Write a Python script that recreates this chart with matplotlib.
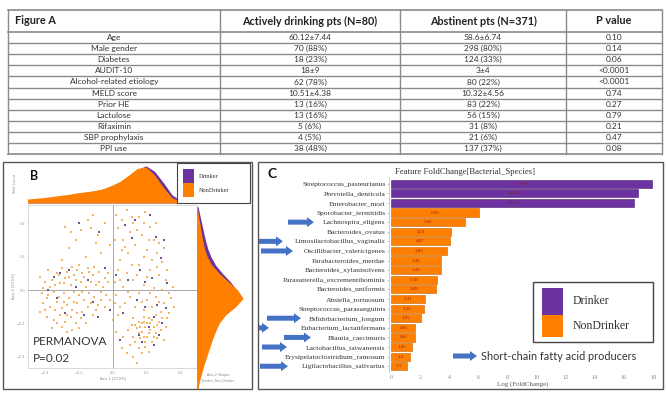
import matplotlib.pyplot as plt
from matplotlib.patches import Rectangle, FancyArrow
import numpy as np

W, H = 666, 393

# --- Figure A table ---
table_header = ['Figure A', 'Actively drinking pts (N=80)', 'Abstinent pts (N=371)', 'P value']
row_labels = ['Age', 'Male gender', 'Diabetes', 'AUDIT-10', 'Alcohol-related etiology', 'MELD score',
              'Prior HE', 'Lactulose', 'Rifaximin', 'SBP prophylaxis', 'PPI use']
drinker_vals = ['60.12±7.44', '70 (88%)', '18 (23%)', '18±9', '62 (78%)', '10.51±4.38',
                '13 (16%)', '13 (16%)', '5 (6%)', '4 (5%)', '38 (48%)']
abstinent_vals = ['58.6±6.74', '298 (80%)', '124 (33%)', '3±4', '80 (22%)', '10.32±4.56',
                  '83 (22%)', '56 (15%)', '31 (8%)', '21 (6%)', '137 (37%)']
p_values = ['0.10', '0.14', '0.06', '<0.0001', '<0.0001', '0.74', '0.27', '0.79', '0.21', '0.47', '0.08']

# --- Panel C: fold change of bacterial species ---
species = ['Streptococcus_pasteurianus', 'Prevotella_denticola', 'Enterobacter_mori',
           'Sporobacter_termitidis', 'Lachnospira_eligens', 'Bacteroides_ovatus',
           'Limosilactobacillus_vaginalis', 'Oscillibacter_valericigenes', 'Parabacteroides_merdae',
           'Bacteroides_xylanisolvens', 'Parasutterella_excrementihominis', 'Bacteroides_uniformis',
           'Absiella_tortuosum', 'Streptococcus_parasanguinis', 'Bifidobacterium_longum',
           'Eubacterium_lactatifermans', 'Blautia_caecimuris', 'Lactobacillus_taiwanensis',
           'Erysipelatoclostridium_ramosum', 'Ligilactobacillus_salivarius']
log_fc = [17.96, 16.94, 16.71, 6.05, 5.06, 4.11, 4.07, 3.83, 3.46, 3.43,
          3.18, 3.09, 2.31, 2.25, 2.05, 1.66, 1.66, 1.45, 1.3, 1.1]
group = ['Drinker'] * 3 + ['NonDrinker'] * 17
scfa = ['Lachnospira_eligens', 'Limosilactobacillus_vaginalis', 'Oscillibacter_valericigenes',
        'Bifidobacterium_longum', 'Eubacterium_lactatifermans', 'Blautia_caecimuris',
        'Lactobacillus_taiwanensis', 'Ligilactobacillus_salivarius']
scfa_arrow_x = [(288, 314), (259, 283), (261, 293), (267, 301), (259, 269), (284, 311), (262, 287), (260, 288)]

# --- Panel B: PCoA scatter ---
nd_pts = [(-0.38, 0.12), (-0.33, 0.10), (-0.30, 0.13), (-0.27, 0.11), (-0.24, 0.14), (-0.21, 0.12),
          (-0.18, 0.10), (-0.15, 0.13), (-0.12, 0.09), (-0.08, 0.11), (-0.05, 0.07), (-0.40, 0.05),
          (-0.36, 0.06), (-0.31, 0.04), (-0.28, 0.07), (-0.25, 0.03), (-0.22, 0.06), (-0.19, 0.05),
          (-0.16, 0.02), (-0.13, 0.05), (-0.10, 0.03), (-0.06, 0.02), (-0.03, 0.05), (-0.42, -0.02),
          (-0.38, -0.03), (-0.35, -0.01), (-0.32, -0.04), (-0.29, -0.02), (-0.26, -0.05), (-0.23, -0.01),
          (-0.20, -0.03), (-0.17, -0.06), (-0.14, -0.02), (-0.11, -0.04), (-0.07, -0.01), (-0.04, -0.03),
          (-0.41, -0.08), (-0.37, -0.10), (-0.33, -0.07), (-0.30, -0.11), (-0.27, -0.09), (-0.24, -0.12),
          (-0.21, -0.08), (-0.18, -0.13), (-0.15, -0.10), (-0.09, -0.09), (-0.39, -0.16), (-0.35, -0.18),
          (-0.31, -0.15), (-0.28, -0.19), (-0.25, -0.16), (-0.22, -0.20), (-0.19, -0.17), (-0.12, -0.15),
          (-0.36, -0.23), (-0.30, -0.22), (-0.24, -0.24), (-0.25, 0.35), (-0.19, 0.36), (-0.13, 0.37),
          (-0.09, 0.33), (-0.26, 0.25), (-0.10, 0.28), (-0.16, 0.20), (-0.05, 0.40), (-0.30, 0.18),
          (0.01, 0.05), (0.03, 0.12), (0.02, -0.03), (0.04, -0.10), (0.00, -0.18), (0.02, -0.25),
          (0.02, 0.45), (0.05, 0.42), (0.08, 0.48), (0.12, 0.40), (0.15, 0.44), (0.19, 0.47),
          (0.22, 0.38), (0.24, 0.30), (0.17, 0.33), (0.10, 0.35), (0.06, 0.30), (0.13, 0.27),
          (0.20, 0.24), (0.26, 0.22), (0.29, 0.17), (0.09, 0.22), (0.04, 0.18), (0.15, 0.15),
          (0.22, 0.12), (0.27, 0.09), (0.31, 0.06), (0.08, 0.10), (0.12, 0.06), (0.18, 0.03),
          (0.24, 0.01), (0.29, 0.00), (0.33, -0.02), (0.06, 0.02), (0.10, -0.04), (0.15, -0.02),
          (0.20, -0.06), (0.25, -0.04), (0.30, -0.08), (0.34, -0.05), (0.07, -0.08), (0.13, -0.10),
          (0.18, -0.12), (0.23, -0.10), (0.28, -0.13), (0.12, -0.17), (0.15, -0.19), (0.18, -0.16),
          (0.20, -0.20), (0.23, -0.18), (0.26, -0.21), (0.29, -0.17), (0.14, -0.23), (0.17, -0.25),
          (0.19, -0.22), (0.22, -0.24), (0.25, -0.26), (0.28, -0.24), (0.16, -0.29), (0.20, -0.28),
          (0.23, -0.31), (0.26, -0.29), (0.12, -0.28), (0.09, -0.24), (0.10, -0.33), (0.15, -0.35),
          (0.19, -0.34), (0.08, -0.38), (0.12, -0.40), (0.30, -0.30),
          (-0.43, 0.08), (-0.41, 0.01), (-0.39, -0.05), (-0.37, 0.02), (-0.34, 0.03), (-0.34, -0.12),
          (-0.32, 0.09), (-0.29, 0.04), (-0.29, -0.07), (-0.27, -0.15), (-0.26, 0.08), (-0.23, 0.09),
          (-0.23, -0.07), (-0.21, -0.14), (-0.20, 0.15), (-0.18, -0.01), (-0.17, 0.08), (-0.16, -0.20),
          (-0.14, 0.11), (-0.13, -0.08), (-0.11, 0.14), (-0.10, -0.12), (-0.08, 0.05), (-0.07, -0.06),
          (-0.05, -0.10), (-0.03, 0.10), (-0.02, -0.06), (-0.33, -0.20), (-0.27, -0.25), (-0.20, -0.23),
          (-0.40, -0.12), (-0.43, -0.13), (0.13, -0.21), (0.16, -0.22), (0.18, -0.19), (0.21, -0.17),
          (0.24, -0.22), (0.27, -0.19), (0.15, -0.26), (0.18, -0.28), (0.21, -0.26), (0.24, -0.28),
          (0.19, -0.31), (0.22, -0.20), (0.17, -0.20), (0.25, -0.15), (0.11, -0.21), (0.13, -0.31),
          (0.17, -0.38), (0.21, -0.37), (0.14, -0.44), (0.05, -0.35), (0.06, -0.28), (0.31, -0.22),
          (0.33, -0.14), (0.01, 0.30), (0.03, 0.37), (0.07, 0.26), (0.11, 0.44), (0.14, 0.36),
          (0.18, 0.40), (0.21, 0.30), (0.25, 0.40), (0.27, 0.28), (0.30, 0.25), (0.32, 0.12),
          (0.23, 0.18), (0.18, 0.20), (0.11, 0.15), (0.05, 0.24), (0.14, 0.09), (0.20, 0.08),
          (0.26, 0.14), (0.35, 0.02), (0.36, -0.10), (0.09, -0.01), (0.17, -0.07), (0.22, -0.02),
          (0.27, -0.07), (0.32, -0.17), (0.04, 0.06), (0.01, -0.08), (0.03, -0.15), (-0.22, 0.30),
          (-0.15, 0.42), (-0.28, 0.38), (-0.07, 0.22), (-0.12, 0.45), (-0.02, 0.27)]
dr_pts = [(-0.35, 0.08), (-0.22, 0.02), (-0.12, -0.07), (-0.28, -0.14), (-0.05, 0.13), (0.02, 0.09),
          (0.19, 0.05), (0.26, -0.09), (0.21, -0.22), (0.24, -0.16), (0.17, -0.31), (0.27, -0.27),
          (0.11, 0.31), (0.22, 0.45), (0.25, 0.32), (0.07, 0.39), (0.16, 0.12), (0.31, -0.11),
          (0.14, -0.06), (-0.17, -0.15), (-0.33, -0.05), (-0.08, 0.35), (-0.20, 0.40), (0.32, 0.04),
          (0.06, -0.14), (0.28, 0.19), (-0.38, 0.00), (-0.26, 0.12), (-0.15, 0.06), (-0.02, -0.12),
          (0.09, 0.06), (0.23, 0.07), (0.19, -0.10), (0.15, -0.27), (0.24, -0.33), (0.29, -0.20),
          (0.13, 0.42), (0.30, 0.30), (0.04, -0.30), (-0.09, -0.16), (-0.31, 0.10)]

top_grid = [-0.5, -0.45, -0.4, -0.35, -0.3, -0.25, -0.2, -0.15, -0.1, -0.05, 0.0,
            0.05, 0.1, 0.15, 0.2, 0.25, 0.3, 0.35, 0.4, 0.45, 0.5]
top_nondrinker = [0.10, 0.12, 0.14, 0.17, 0.20, 0.23, 0.27, 0.30, 0.33, 0.38, 0.47,
                  0.58, 0.75, 0.93, 0.97, 0.75, 0.42, 0.14, 0.04, 0.01, 0.0]
top_drinker = [0.08, 0.10, 0.12, 0.15, 0.18, 0.21, 0.25, 0.29, 0.32, 0.37, 0.45,
               0.56, 0.72, 0.90, 1.00, 0.85, 0.55, 0.22, 0.06, 0.01, 0.0]
side_grid = [0.5, 0.45, 0.4, 0.35, 0.3, 0.25, 0.2, 0.15, 0.1, 0.05, 0.0, -0.05,
             -0.1, -0.15, -0.2, -0.25, -0.3, -0.35, -0.4, -0.45, -0.5, -0.55, -0.6]
side_nondrinker = [0.0, 0.03, 0.06, 0.09, 0.12, 0.16, 0.22, 0.32, 0.48, 0.68, 0.88, 1.0,
                   0.84, 0.62, 0.48, 0.40, 0.33, 0.27, 0.21, 0.15, 0.10, 0.05, 0.02]
side_drinker = [0.02, 0.06, 0.10, 0.14, 0.18, 0.23, 0.30, 0.40, 0.55, 0.72, 0.86, 0.90,
                0.76, 0.58, 0.45, 0.37, 0.30, 0.24, 0.18, 0.13, 0.08, 0.04, 0.01]

PURPLE = '#6B32A0'
ORANGE = '#FF8000'
BLUE = '#4472C4'
SANS = ['Lato', 'DejaVu Sans']
SERIF = ['Liberation Serif', 'DejaVu Serif']


def rect(x0, y0, x1, y1):
    # pixel box (top-left origin) -> figure fraction
    return [x0 / W, 1 - y1 / H, (x1 - x0) / W, (y1 - y0) / H]


fig = plt.figure(figsize=(W / 100, H / 100), dpi=100)

# ---------------- Panel C ----------------
axc = fig.add_axes(rect(389, 177, 657, 372))
ypos = np.arange(len(species))
cols = [PURPLE if g == 'Drinker' else ORANGE for g in group]
edges = ['#4a1f75' if g == 'Drinker' else '#c96400' for g in group]
axc.barh(ypos, log_fc, height=0.85, color=cols, edgecolor=edges, linewidth=0.4)
for i, v in enumerate(log_fc):
    axc.text(v / 2, i, f'{v:g}', ha='center', va='center', fontsize=3.5, color='#8b1a1a',
             family=SERIF)
axc.set_yticks(ypos)
axc.set_yticklabels(species, family=SERIF, fontsize=5.4, color='#333333')
axc.set_ylim(19.6, -0.7)
axc.set_xlim(-0.14, 18.27)
axc.set_xticks(range(0, 19, 2))
axc.tick_params(axis='x', labelsize=4.3, colors='#888888', length=0, pad=2)
axc.tick_params(axis='y', length=1.5, width=0.4, color='#999999', pad=1)
for t in axc.get_xticklabels():
    t.set_family(SERIF)
for s in ['top', 'right', 'bottom']:
    axc.spines[s].set_visible(False)
axc.spines['left'].set_color('#bbbbbb')
axc.spines['left'].set_linewidth(0.5)
axc.set_xlabel('Log (FoldChange)', family=SERIF, fontsize=5, color='#555555', labelpad=1)

# ---------------- Panel B ----------------
xlim_b = (-0.5, 0.494)
ylim_b = (-0.467, 0.51)
axs = fig.add_axes(rect(28, 205, 197, 368))
axs.scatter([p[0] for p in nd_pts], [p[1] for p in nd_pts], s=3.5, marker='s', color='#F3A13A',
            alpha=0.8, linewidths=0)
axs.scatter([p[0] for p in dr_pts], [p[1] for p in dr_pts], s=3.5, marker='s', color='#4B3C86',
            alpha=0.85, linewidths=0)
axs.axhline(0, color='#999999', lw=0.6, zorder=0)
axs.axvline(0, color='#999999', lw=0.6, zorder=0)
axs.set_xlim(*xlim_b)
axs.set_ylim(*ylim_b)
axs.set_xticks([-0.4, -0.2, 0.0, 0.2, 0.4])
axs.set_yticks([-0.4, -0.2, 0.0, 0.2, 0.4])
axs.tick_params(labelsize=2.5, colors='#999999', length=1, width=0.3, pad=1)
for s in axs.spines.values():
    s.set_color('#cccccc')
    s.set_linewidth(0.5)
axs.set_xlabel('Axis.1 [22.8%]', fontsize=2.5, color='#888888', labelpad=1)
axs.set_ylabel('Axis.2 [14.5%]', fontsize=2.5, color='#888888', labelpad=1)
axs.text(-0.47, -0.33, 'PERMANOVA', family=SANS, fontsize=8.5, color='#333333')
axs.text(-0.47, -0.43, 'P=0.02', family=SANS, fontsize=8.5, color='#333333')

axt = fig.add_axes(rect(28, 164, 197, 203))
axt.fill_between(top_grid, top_drinker, color=PURPLE, lw=0)
axt.fill_between(top_grid, top_nondrinker, color=ORANGE, lw=0)
axt.set_xlim(-0.48, xlim_b[1])
axt.set_ylim(0, 1.05)
axt.set_xticks([])
axt.set_yticks([])
for s in axt.spines.values():
    s.set_visible(False)
axt.set_ylabel('Total Count', fontsize=2.5, color='#888888', labelpad=8)

axr = fig.add_axes(rect(197, 207, 250, 388))
axr.fill_betweenx(side_grid, side_drinker, color=PURPLE, lw=0)
axr.fill_betweenx(side_grid, side_nondrinker, color=ORANGE, lw=0)
axr.set_ylim(-0.587, 0.497)
axr.set_xlim(0, 1.15)
axr.set_xticks([])
axr.set_yticks([])
axr.patch.set_alpha(0)
for s in axr.spines.values():
    s.set_visible(False)

# ---------------- overlay: table, frames, legends, arrows ----------------
ov = fig.add_axes([0, 0, 1, 1], zorder=10)
ov.set_xlim(0, W)
ov.set_ylim(H, 0)
ov.axis('off')
ov.patch.set_alpha(0)

col_edges = [8, 220, 400, 566, 662]
head_top, head_bot, row_h = 10, 32, 11.1
n_rows = len(row_labels)
tab_bot = head_bot + n_rows * row_h
line_c = '#8a8a8a'
for x in col_edges:
    ov.plot([x, x], [head_top, tab_bot], color=line_c, lw=1.0)
ov.plot([col_edges[0], col_edges[-1]], [head_top, head_top], color=line_c, lw=1.2)
for r in range(n_rows + 1):
    y = head_bot + r * row_h
    ov.plot([col_edges[0], col_edges[-1]], [y, y], color=line_c, lw=1.0 if 0 < r < n_rows else 1.2)

hy = (head_top + head_bot) / 2
ov.text(col_edges[0] + 7, hy, table_header[0], ha='left', va='center', family=SANS,
        fontsize=7.8, fontweight='bold', color='#222222')
for c in range(1, 4):
    ov.text((col_edges[c] + col_edges[c + 1]) / 2, hy, table_header[c], ha='center', va='center',
            family=SANS, fontsize=7.8, fontweight='bold', color='#222222')
for r in range(n_rows):
    y = head_bot + (r + 0.5) * row_h
    for c, vals in enumerate([row_labels, drinker_vals, abstinent_vals, p_values]):
        ov.text((col_edges[c] + col_edges[c + 1]) / 2, y, vals[r], ha='center', va='center',
                family=SANS, fontsize=6, color='#333333')

# panel frames
ov.add_patch(Rectangle((3, 162), 249, 227, fill=False, ec='#555555', lw=1.0))
ov.add_patch(Rectangle((258, 162), 405, 227, fill=False, ec='#555555', lw=1.0))
ov.text(30, 176, 'B', family=SANS, fontsize=9, fontweight='bold', va='center', color='#111111')
ov.text(268, 174, 'C', family=SANS, fontsize=10, fontweight='bold', va='center', color='#111111')
ov.text(465, 172, 'Feature FoldChange[Bacterial_Species]', family=SERIF, fontsize=6.3,
        ha='center', va='center', color='#333333')

# legend in B
ov.add_patch(Rectangle((177, 163), 73, 40, fc='white', ec='#444444', lw=0.8))
ov.add_patch(Rectangle((183, 169), 11, 14, fc=PURPLE, lw=0))
ov.add_patch(Rectangle((183, 183), 11, 14, fc=ORANGE, lw=0))
ov.text(199, 176, 'Drinker', family=SERIF, fontsize=4.5, va='center', color='#333333')
ov.text(199, 190, 'NonDrinker', family=SERIF, fontsize=4.5, va='center', color='#333333')
ov.text(218, 376, 'Axis.2 Shapes', fontsize=2.3, color='#888888', ha='center')
ov.text(218, 381, 'Drinker_Non_Drinker', fontsize=2.3, color='#888888', ha='center')

# legend in C
ov.add_patch(Rectangle((533, 282), 120, 60, fc='white', ec='#444444', lw=1.0))
ov.add_patch(Rectangle((542, 288), 21, 27, fc=PURPLE, lw=0))
ov.add_patch(Rectangle((542, 315), 21, 22, fc=ORANGE, lw=0))
ov.text(573, 301, 'Drinker', family=SERIF, fontsize=8.5, va='center', color='#333333')
ov.text(573, 326, 'NonDrinker', family=SERIF, fontsize=8.5, va='center', color='#333333')

# SCFA arrows
fig.canvas.draw()
for name, (x0, x1) in zip(scfa, scfa_arrow_x):
    i = species.index(name)
    ypx = H - axc.transData.transform((0, i))[1]
    ov.add_patch(FancyArrow(x0, ypx, x1 - x0, 0, width=5, head_width=10, head_length=7,
                            length_includes_head=True, color=BLUE, lw=0))
ov.add_patch(FancyArrow(453, 356, 24, 0, width=5, head_width=10, head_length=7,
                        length_includes_head=True, color=BLUE, lw=0))
ov.text(481, 356, 'Short-chain fatty acid producers', family=SANS, fontsize=7.8,
        va='center', color='#333333')

fig.savefig('out.png', dpi=100)
